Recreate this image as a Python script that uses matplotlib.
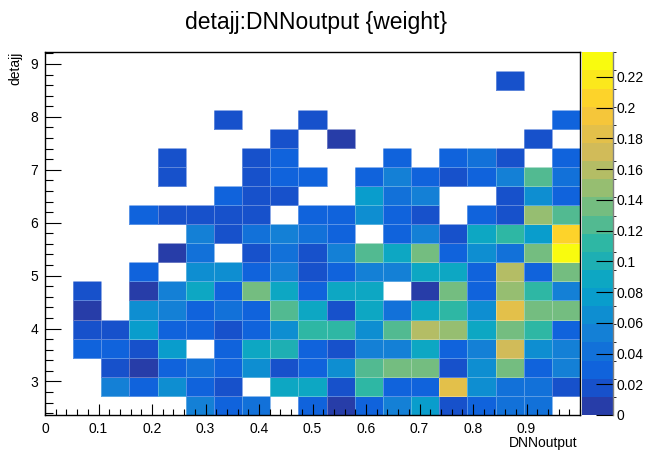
import numpy as np
import matplotlib
matplotlib.use("Agg")
import matplotlib.pyplot as plt
from matplotlib.colors import LinearSegmentedColormap, ListedColormap, BoundaryNorm
from matplotlib.ticker import MultipleLocator, FuncFormatter

plt.rcParams["font.family"] = ["Liberation Sans", "DejaVu Sans"]

# binning of the 2D histogram
x_min, x_max, nx = 0.0, 1.0, 19
y_min, y_max, ny = 2.365, 9.221, 19
z_max = 0.236

# bin contents (sum of weights), rows from top (detajj high) to bottom
weights = [
    [0, 0, 0, 0, 0, 0, 0, 0, 0, 0, 0, 0, 0, 0, 0, 0, 0, 0, 0],
    [0, 0, 0, 0, 0, 0, 0, 0, 0, 0, 0, 0, 0, 0, 0, 0, .018, 0, 0],
    [0, 0, 0, 0, 0, 0, 0, 0, 0, 0, 0, 0, 0, 0, 0, 0, 0, 0, 0],
    [0, 0, 0, 0, 0, 0, .018, 0, 0, .018, 0, 0, 0, 0, 0, 0, 0, 0, .030],
    [0, 0, 0, 0, 0, 0, 0, 0, .018, 0, .006, 0, 0, 0, 0, 0, 0, .018, 0],
    [0, 0, 0, 0, .018, 0, 0, .018, .030, 0, 0, 0, .030, 0, .030, .041, .018, 0, .030],
    [0, 0, 0, 0, .018, 0, 0, .018, .030, .030, 0, .030, .053, .030, .018, .030, .053, .124, .041],
    [0, 0, 0, 0, 0, 0, .030, .018, .018, 0, 0, .077, .041, .053, 0, 0, .018, .065, .030],
    [0, 0, 0, .030, .018, .018, .018, .018, 0, .030, .030, .065, .030, .018, 0, .030, .018, .147, .124],
    [0, 0, 0, 0, 0, .053, .018, .041, .053, .041, .030, 0, .030, .053, .018, .089, .112, .077, .206],
    [0, 0, 0, 0, .006, .041, 0, .018, .041, .018, .053, .124, .089, .136, .030, .065, .041, .136, .230],
    [0, 0, 0, .030, 0, .065, .065, .030, .053, .018, .030, .053, .053, .089, .089, .030, .159, .030, .136],
    [0, .018, 0, .006, .053, .089, .030, .136, .089, .030, .089, .089, 0, .006, .136, .030, .147, .112, .053],
    [0, .006, 0, .065, .053, .030, .041, .030, .124, .089, .018, .089, .041, .089, .112, .065, .183, .136, .136],
    [0, .018, .018, .077, .030, .030, .018, .030, .065, .112, .112, .065, .124, .159, .147, .089, .136, .112, .030],
    [0, .030, .030, .018, .077, 0, .030, .089, .100, .030, .018, .053, .053, .089, .030, .053, .171, .065, .053],
    [0, 0, .018, .006, .030, .041, .030, .065, .018, .030, .065, .124, .136, .136, .018, .065, .136, .030, .053],
    [0, 0, .053, .030, .065, .030, .018, 0, .089, .089, .018, .112, .030, .030, .183, .065, .041, .041, .018],
    [0, 0, 0, 0, 0, .053, .030, .041, 0, .030, .006, .030, .053, .077, .018, .030, .041, .041, 0],
]

x_ticks = [0, 0.1, 0.2, 0.3, 0.4, 0.5, 0.6, 0.7, 0.8, 0.9]
y_ticks = [3, 4, 5, 6, 7, 8, 9]
z_ticks = [0, 0.02, 0.04, 0.06, 0.08, 0.1, 0.12, 0.14, 0.16, 0.18, 0.2, 0.22]

# ROOT kBird palette, 20 contour levels
stops = [0.0, 0.125, 0.25, 0.375, 0.5, 0.625, 0.75, 0.875, 1.0]
red = [0.2082, 0.0592, 0.0780, 0.0232, 0.1802, 0.5301, 0.8186, 0.9956, 0.9764]
green = [0.1664, 0.3599, 0.5041, 0.6419, 0.7178, 0.7492, 0.7328, 0.7862, 0.9832]
blue = [0.5293, 0.8684, 0.8385, 0.7914, 0.6425, 0.4662, 0.3499, 0.1968, 0.0539]
bird = LinearSegmentedColormap.from_list(
    "bird", list(zip(stops, zip(red, green, blue))), N=255)
nlev = 20
cols = [bird(int((i + 0.99) * 255 / nlev) / 254) for i in range(nlev)]
cmap = ListedColormap(cols)
norm = BoundaryNorm(np.linspace(0, z_max, nlev + 1), nlev)

z = np.array(weights)[::-1]
z = np.ma.masked_where(z <= 0, z)
xe = np.linspace(x_min, x_max, nx + 1)
ye = np.linspace(y_min, y_max, ny + 1)

W, H = 648, 453
fig = plt.figure(figsize=(W / 100, H / 100), dpi=100)
ax = fig.add_axes([45 / W, 1 - 415 / H, 535 / W, 362.7 / H])
mesh = ax.pcolormesh(xe, ye, z, cmap=cmap, norm=norm,
                     edgecolors=(1, 1, 1, 0.3), linewidth=0.4)
ax.set_xlim(x_min, x_max)
ax.set_ylim(y_min, y_max)

ax.set_xticks(x_ticks)
ax.set_xticklabels(["0"] + ["%g" % t for t in x_ticks[1:]])
ax.xaxis.set_minor_locator(MultipleLocator(0.02))
ax.set_yticks(y_ticks)
ax.yaxis.set_minor_locator(MultipleLocator(0.2))
ax.tick_params(axis="x", which="major", direction="in", length=8, width=0.8,
               labelsize=10, pad=5)
ax.tick_params(axis="x", which="minor", direction="in", length=4, width=0.8)
ax.tick_params(axis="y", which="major", direction="in", length=11.5, width=0.8,
               labelsize=10, pad=5)
ax.tick_params(axis="y", which="minor", direction="in", length=6, width=0.8)
for s in ax.spines.values():
    s.set_linewidth(1.0)

fig.text(316 / W, 1 - 22 / H, "detajj:DNNoutput {weight}", ha="center",
         va="center", fontsize=16.5)
fig.text(578 / W, 1 - 443 / H, "DNNoutput", ha="right", va="center",
         fontsize=10)
fig.text(15 / W, 1 - 52 / H, "detajj", ha="center", va="top", rotation=90,
         fontsize=10)

cax = fig.add_axes([582 / W, 1 - 415 / H, 30.5 / W, 362.7 / H])
cb = fig.colorbar(mesh, cax=cax, ticks=z_ticks)
cb.outline.set_visible(False)
cax.yaxis.set_major_formatter(FuncFormatter(lambda v, p: "%g" % round(v, 3)))
cax.tick_params(axis="y", direction="in", length=12, width=0.8, labelsize=10,
                pad=3, color="black")
cax.plot([1, 1], [0, 1], transform=cax.transAxes, color="gray", lw=1,
         clip_on=False)

fig.savefig("out.png", dpi=100)
